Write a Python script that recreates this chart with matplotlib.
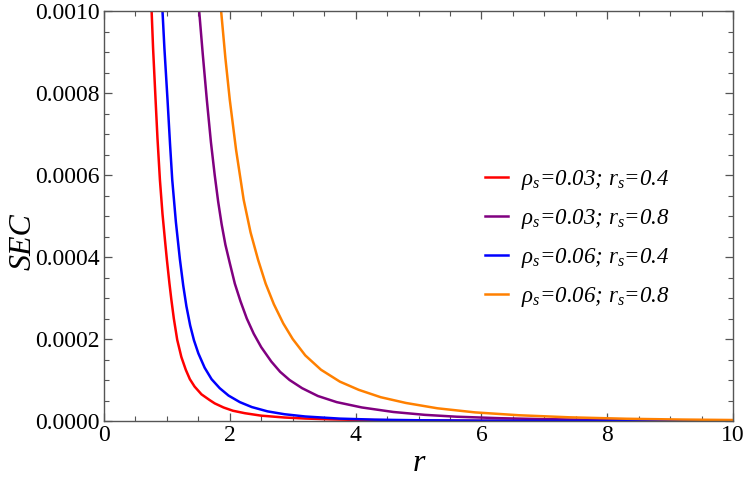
import matplotlib
matplotlib.use("Agg")
import matplotlib.pyplot as plt
from matplotlib.ticker import MultipleLocator, FormatStrFormatter

plt.rcParams['font.family'] = ['Liberation Serif', 'DejaVu Serif']
plt.rcParams['mathtext.fontset'] = 'custom'
plt.rcParams['mathtext.rm'] = 'Liberation Serif'
plt.rcParams['mathtext.it'] = 'Liberation Serif:italic'

# ---- data ----
labels = [r'$\rho_s$=0.03; $r_s$=0.4', r'$\rho_s$=0.03; $r_s$=0.8',
          r'$\rho_s$=0.06; $r_s$=0.4', r'$\rho_s$=0.06; $r_s$=0.8']
colors = ['#FF0000', '#800080', '#0000FF', '#FF8000']

# SEC values in units of 1e-4
r_red = [0.74, 0.757, 0.78, 0.82, 0.85, 0.889, 0.93, 0.97, 1.0, 1.04, 1.07, 1.11, 1.164, 1.23, 1.3, 1.365,
         1.44, 1.55, 1.68, 1.76, 1.9, 2.05, 2.24, 2.5, 2.87, 3.2, 3.6, 4.0, 5.0, 6.0, 8.0, 10.0]
y_red = [10.8, 10.0, 9.1, 7.83, 6.9, 5.88, 5.05, 4.4, 3.93, 3.36, 2.97, 2.5, 1.98, 1.56, 1.25, 1.02,
         0.84, 0.65, 0.51, 0.43, 0.33, 0.25, 0.19, 0.13, 0.085, 0.06, 0.04, 0.027, 0.012, 0.006, 0.002, 0.001]

r_purple = [1.49, 1.513, 1.57, 1.635, 1.7, 1.76, 1.815, 1.87, 1.93, 2.0, 2.08, 2.17, 2.27, 2.38, 2.5, 2.66,
            2.8, 2.95, 3.15, 3.4, 3.7, 4.1, 4.6, 5.1, 5.6, 6.3, 7.0, 8.0, 9.0, 10.0]
y_purple = [10.8, 10.0, 8.95, 7.83, 6.8, 6.0, 5.35, 4.8, 4.3, 3.85, 3.35, 2.92, 2.5, 2.13, 1.8, 1.45,
            1.2, 1.0, 0.8, 0.61, 0.46, 0.33, 0.22, 0.15, 0.105, 0.068, 0.045, 0.025, 0.015, 0.009]

r_blue = [0.915, 0.93, 0.96, 1.01, 1.05, 1.085, 1.143, 1.206, 1.26, 1.31, 1.37, 1.43, 1.5, 1.6, 1.71, 1.84,
          1.98, 2.16, 2.35, 2.6, 2.87, 3.2, 3.75, 4.3, 5.0, 6.0, 7.5, 10.0]
y_blue = [10.8, 10.0, 9.1, 7.83, 6.75, 5.88, 4.85, 3.95, 3.3, 2.8, 2.33, 1.97, 1.65, 1.3, 1.02, 0.8,
          0.62, 0.46, 0.34, 0.235, 0.165, 0.11, 0.058, 0.033, 0.018, 0.008, 0.003, 0.001]

r_orange = [1.84, 1.862, 1.93, 2.0, 2.1, 2.22, 2.33, 2.45, 2.57, 2.7, 2.85, 3.0, 3.2, 3.45, 3.75, 4.05,
            4.4, 4.8, 5.3, 5.9, 6.6, 7.4, 8.3, 9.2, 10.0]
y_orange = [10.8, 10.0, 8.85, 7.83, 6.61, 5.4, 4.6, 3.93, 3.35, 2.85, 2.38, 2.0, 1.6, 1.25, 0.96, 0.76,
            0.58, 0.44, 0.31, 0.21, 0.14, 0.09, 0.055, 0.035, 0.024]

series_r = [r_red, r_purple, r_blue, r_orange]
series_y = [y_red, y_purple, y_blue, y_orange]
y_unit = 1e-4

x_ticks = [0, 2, 4, 6, 8, 10]
y_ticks = [0.0, 0.0002, 0.0004, 0.0006, 0.0008, 0.0010]

# ---- figure ----
fig = plt.figure(figsize=(7.47, 4.82), dpi=100)
ax = fig.add_axes([104/747, 1 - 421/482, (733 - 104)/747, (421 - 11)/482])

for rr, yy, c, lab in zip(series_r, series_y, colors, labels):
    ax.plot(rr, [v * y_unit for v in yy], color=c, lw=1.8, label=lab)

ax.set_xlim(0, 10)
ax.set_ylim(0, 0.001)
ax.set_xticks(x_ticks)
ax.set_yticks(y_ticks)
ax.yaxis.set_major_formatter(FormatStrFormatter('%.4f'))
ax.xaxis.set_minor_locator(MultipleLocator(0.5))
ax.yaxis.set_minor_locator(MultipleLocator(0.00005))

frame_col = '#555555'
for sp in ax.spines.values():
    sp.set_color(frame_col)
    sp.set_linewidth(1.0)
ax.tick_params(which='both', direction='in', top=True, right=True,
               color=frame_col, labelsize=17, labelcolor='black')
ax.tick_params(which='major', length=6, width=0.9, pad=3)
ax.tick_params(which='minor', length=3.5, width=0.8)

ax.set_xlabel('r', fontsize=23, style='italic', labelpad=2)
fig.text(23/747, 1 - 242/482, 'SEC', fontsize=23, style='italic', rotation=90,
         ha='center', va='center')

leg = ax.legend(loc='upper left', bbox_to_anchor=(0.606, 0.618), frameon=False,
                fontsize=16.5, handlelength=1.0, handletextpad=0.55,
                labelspacing=0.66, borderaxespad=0, borderpad=0)
for t in leg.get_texts():
    t.set_fontstyle('italic')

fig.savefig('out.png', dpi=100)
